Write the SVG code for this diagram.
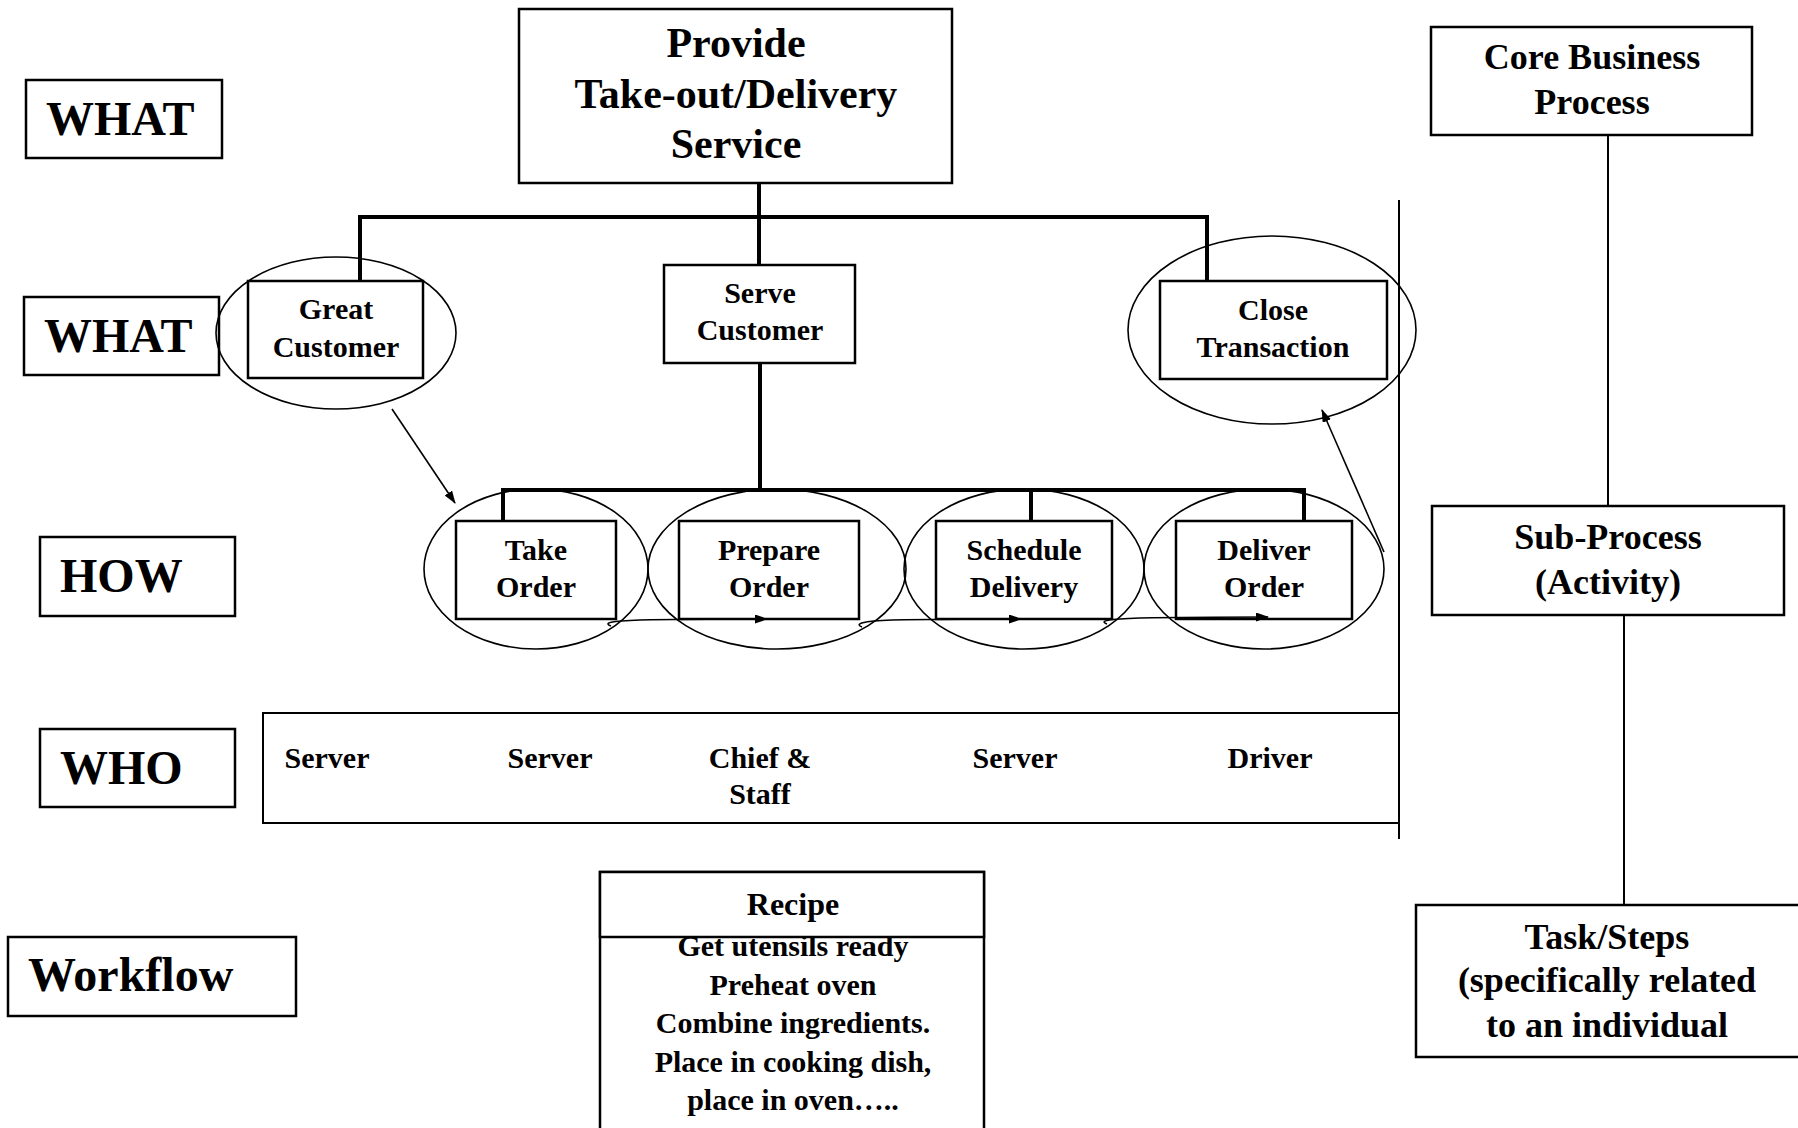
<svg xmlns="http://www.w3.org/2000/svg" width="1798" height="1128" viewBox="0 0 1798 1128">
<style>
text{font-family:"Liberation Serif","Times New Roman",serif;font-weight:bold;fill:#000}
.box{fill:#fff;stroke:#000;stroke-width:2.5}
.ell{fill:none;stroke:#000;stroke-width:1.6}
.lbl{font-size:48px}
.big{font-size:42px;text-anchor:middle}
.mid{font-size:36px;text-anchor:middle}
.sm{font-size:30px;text-anchor:middle}
.bar{stroke:#000;stroke-width:4;fill:none}
.thin{stroke:#000;stroke-width:2;fill:none}
.arr{stroke:#000;stroke-width:1.6;fill:none}
</style>
<defs>
<marker id="ah" markerWidth="13" markerHeight="9" refX="12" refY="4.5" orient="auto" markerUnits="userSpaceOnUse">
<path d="M0,0 L13,4.5 L0,9 Z" fill="#000"/>
</marker>
</defs>
<rect width="1798" height="1128" fill="#fff"/>

<g id="label-what1"><rect class="box" x="26" y="80" width="196" height="78"/><text class="lbl" x="46" y="135">WHAT</text></g>
<g id="label-what2"><rect class="box" x="24" y="297" width="195" height="78"/><text class="lbl" x="44" y="352">WHAT</text></g>
<g id="label-how"><rect class="box" x="40" y="537" width="195" height="79"/><text class="lbl" x="60" y="592">HOW</text></g>
<g id="label-who"><rect class="box" x="40" y="729" width="195" height="78"/><text class="lbl" x="60" y="784">WHO</text></g>
<g id="label-workflow"><rect class="box" x="8" y="937" width="288" height="79"/><text class="lbl" x="28" y="991">Workflow</text></g>

<g id="provide">
<rect class="box" x="519" y="9" width="433" height="174"/>
<text class="big" x="736" y="57">Provide</text>
<text class="big" x="736" y="108">Take-out/Delivery</text>
<text class="big" x="736" y="158">Service</text>
</g>

<g id="great-customer">
<ellipse class="ell" cx="336" cy="333" rx="120" ry="76"/>
<rect class="box" x="248" y="281" width="175" height="97"/>
<text class="sm" x="336" y="319">Great</text>
<text class="sm" x="336" y="357">Customer</text>
</g>

<g id="serve-customer">
<rect class="box" x="664" y="265" width="191" height="98"/>
<text class="sm" x="760" y="303">Serve</text>
<text class="sm" x="760" y="340">Customer</text>
</g>

<g id="close-transaction">
<ellipse class="ell" cx="1272" cy="330" rx="144" ry="94"/>
<rect class="box" x="1160" y="281" width="227" height="98"/>
<text class="sm" x="1273" y="320">Close</text>
<text class="sm" x="1273" y="357">Transaction</text>
</g>

<g id="take-order">
<ellipse class="ell" cx="536" cy="569" rx="112" ry="80"/>
<rect class="box" x="456" y="521" width="160" height="98"/>
<text class="sm" x="536" y="560">Take</text>
<text class="sm" x="536" y="597">Order</text>
</g>

<g id="prepare-order">
<ellipse class="ell" cx="777" cy="569" rx="129" ry="80"/>
<rect class="box" x="679" y="521" width="180" height="98"/>
<text class="sm" x="769" y="560">Prepare</text>
<text class="sm" x="769" y="597">Order</text>
</g>

<g id="schedule-delivery">
<ellipse class="ell" cx="1024" cy="569" rx="120" ry="80"/>
<rect class="box" x="936" y="521" width="176" height="98"/>
<text class="sm" x="1024" y="560">Schedule</text>
<text class="sm" x="1024" y="597">Delivery</text>
</g>

<g id="deliver-order">
<ellipse class="ell" cx="1264" cy="569" rx="120" ry="80"/>
<rect class="box" x="1176" y="521" width="176" height="98"/>
<text class="sm" x="1264" y="560">Deliver</text>
<text class="sm" x="1264" y="597">Order</text>
</g>

<g id="who-row">
<path class="thin" d="M1399,713 L263,713 L263,823 L1399,823"/>
<text class="sm" x="327" y="768">Server</text>
<text class="sm" x="550" y="768">Server</text>
<text class="sm" x="760" y="768">Chief &amp;</text>
<text class="sm" x="760" y="804">Staff</text>
<text class="sm" x="1015" y="768">Server</text>
<text class="sm" x="1270" y="768">Driver</text>
</g>

<g id="recipe">
<rect class="box" x="600" y="872" width="384" height="280"/>
<text class="sm" x="793" y="956">Get utensils ready</text>
<text class="sm" x="793" y="995">Preheat oven</text>
<text class="sm" x="793" y="1033">Combine ingredients.</text>
<text class="sm" x="793" y="1072">Place in cooking dish,</text>
<text class="sm" x="793" y="1110">place in oven…..</text>
<rect class="box" x="600" y="872" width="384" height="65"/>
<text class="sm" x="793" y="915" style="font-size:32px">Recipe</text>
</g>

<g id="core-business-process">
<rect class="box" x="1431" y="27" width="321" height="108"/>
<text class="mid" x="1592" y="69">Core Business</text>
<text class="mid" x="1592" y="114">Process</text>
</g>

<g id="sub-process">
<rect class="box" x="1432" y="506" width="352" height="109"/>
<text class="mid" x="1608" y="549">Sub-Process</text>
<text class="mid" x="1608" y="594">(Activity)</text>
</g>

<g id="task-steps">
<rect class="box" x="1416" y="905" width="390" height="152"/>
<text class="mid" x="1607" y="949">Task/Steps</text>
<text class="mid" x="1607" y="992">(specifically related</text>
<text class="mid" x="1607" y="1037">to an individual</text>
</g>

<g id="connectors">
<line class="bar" x1="759" y1="183" x2="759" y2="217"/>
<line class="bar" x1="358" y1="217" x2="1209" y2="217"/>
<line class="bar" x1="360" y1="217" x2="360" y2="281"/>
<line class="bar" x1="759" y1="217" x2="759" y2="265"/>
<line class="bar" x1="1207" y1="217" x2="1207" y2="281"/>
<line class="bar" x1="760" y1="363" x2="760" y2="490"/>
<line class="bar" x1="501" y1="490" x2="1306" y2="490"/>
<line class="bar" x1="503" y1="490" x2="503" y2="521"/>
<line class="bar" x1="1031" y1="490" x2="1031" y2="521"/>
<line class="bar" x1="1304" y1="490" x2="1304" y2="521"/>
<line class="thin" x1="1399" y1="200" x2="1399" y2="839"/>
<line class="thin" x1="1608" y1="135" x2="1608" y2="506"/>
<line class="thin" x1="1624" y1="615" x2="1624" y2="905"/>
<path class="arr" d="M392,409 L455,503" marker-end="url(#ah)"/>
<path class="arr" d="M1384,552 L1322,410" marker-end="url(#ah)"/>
<path class="arr" d="M611,626 C603,623 610,621 640,620 C680,619 720,619 767,619" marker-end="url(#ah)"/>
<path class="arr" d="M862,627 C854,624 862,621 892,620 C940,619 980,619 1021,619" marker-end="url(#ah)"/>
<path class="arr" stroke-width="2.4" d="M1107,624 C1099,621 1107,619 1140,618 C1190,617 1230,617 1268,617" marker-end="url(#ah)"/>
</g>
</svg>
